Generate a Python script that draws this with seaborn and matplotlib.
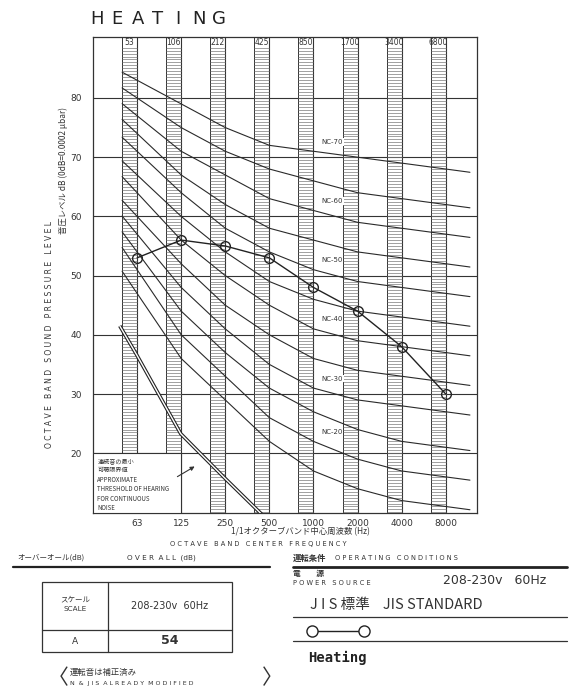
import numpy as np
import pandas as pd
import matplotlib
matplotlib.use("Agg")
import matplotlib.pyplot as plt
from matplotlib.lines import Line2D
from matplotlib.patches import Rectangle
import seaborn as sns

# octave bands
bands = ["63", "125", "250", "500", "1000", "2000", "4000", "8000"]
band_top = ["53", "106", "212", "425", "850", "1700", "3400", "6800"]

# measured octave band level, heating (dB)
heating_db = [53, 56, 55, 53, 48, 44, 38, 30]

# NC curves (dB at 63 ... 8000 Hz)
nc_names = ["NC-15", "NC-20", "NC-25", "NC-30", "NC-35", "NC-40",
            "NC-45", "NC-50", "NC-55", "NC-60", "NC-65", "NC-70"]
nc15 = [47, 36, 29, 22, 17, 14, 12, 11]
nc20 = [51, 40, 33, 26, 22, 19, 17, 16]
nc25 = [54, 44, 37, 31, 27, 24, 22, 21]
nc30 = [57, 48, 41, 35, 31, 29, 28, 27]
nc35 = [60, 52, 45, 40, 36, 34, 33, 32]
nc40 = [64, 56, 50, 45, 41, 39, 38, 37]
nc45 = [67, 60, 54, 49, 46, 44, 43, 42]
nc50 = [71, 64, 58, 54, 51, 49, 48, 47]
nc55 = [74, 67, 62, 58, 56, 54, 53, 52]
nc60 = [77, 71, 67, 63, 61, 59, 58, 57]
nc65 = [80, 75, 71, 68, 66, 64, 63, 62]
nc70 = [83, 79, 75, 72, 71, 70, 69, 68]
nc_values = [nc15, nc20, nc25, nc30, nc35, nc40, nc45, nc50, nc55, nc60, nc65, nc70]
nc_labelled = ["NC-20", "NC-30", "NC-40", "NC-50", "NC-60", "NC-70"]

# approx. threshold of hearing (double line)
threshold_hz = [48, 63, 125, 250, 500]
threshold_db = [41.5, 36.5, 23.3, 15.8, 8.5]

sns.set_style("white")
plt.rcParams['font.family'] = ['DejaVu Sans', 'Noto Sans CJK JP']
jp = ['Noto Sans CJK JP', 'DejaVu Sans']

W, H = 574, 693
fig = plt.figure(figsize=(W / 100, H / 100), dpi=100)


def px(x, y):
    return x / W, 1 - y / H


ax = fig.add_axes([93 / W, 1 - 513 / H, 384 / W, 476 / H])
ax.set_xlim(-1.0, 7.71)
ax.set_ylim(9.9, 90.3)
lc = "#333333"

# horizontal grid
for v in range(20, 81, 10):
    ax.axhline(v, color=lc, lw=0.8, zorder=1)

# hatched band stripes
sw = 0.34
rungs = np.arange(10, 88.6, 0.5)
for i in range(len(bands)):
    ax.axvline(i, color=lc, lw=0.8, zorder=1)
    ax.axvline(i - sw, color=lc, lw=0.7, zorder=1)
    ax.hlines(rungs, i - sw, i, color="#7a7a7a", lw=0.5, zorder=1)
    ax.text(i - sw / 2, 89.3, band_top[i], ha="center", va="center", fontsize=5.5, color=lc)

# NC curves
rows = []
for name, vals in zip(nc_names, nc_values):
    pos = [-sw] + list(range(8)) + [7.55]
    db = [vals[0] - sw * (vals[1] - vals[0])] + vals + [vals[7] + 0.55 * (vals[7] - vals[6])]
    for p, d in zip(pos, db):
        rows.append({"curve": name, "pos": p, "db": d})
nc_df = pd.DataFrame(rows)
sns.lineplot(data=nc_df, x="pos", y="db", units="curve", estimator=None,
             color="#2a2a2a", lw=0.8, ax=ax, zorder=2)
for name, vals in zip(nc_names, nc_values):
    if name in nc_labelled:
        ax.text(4.42, vals[4] + 1.6, name, fontsize=5, ha="center", va="center",
                color=lc, zorder=4,
                bbox=dict(fc="white", ec="none", pad=0.6))

# threshold double line
tpos = np.log2(np.array(threshold_hz) / 63.0)
ax.plot(tpos, threshold_db, color="#222222", lw=2.6, zorder=3, solid_capstyle="butt")
ax.plot(tpos, threshold_db, color="white", lw=1.0, zorder=3, solid_capstyle="butt")

# measured heating curve
meas = pd.DataFrame({"pos": range(8), "db": heating_db})
sns.lineplot(data=meas, x="pos", y="db", marker="o", color="#222222", lw=1.0,
             markersize=7, markerfacecolor="none", markeredgecolor="#222222",
             markeredgewidth=1.0, ax=ax, zorder=5)

# note box lower left
ax.add_patch(Rectangle((-1.0, 9.9), 2.0, 10.1, fc="white", ec=lc, lw=0.8, zorder=4))
note = ["連続音の最小", "可聴限界値", "APPROXIMATE", "THRESHOLD OF HEARING",
        "FOR CONTINUOUS", "NOISE"]
for k, t in enumerate(note):
    ax.text(-0.9, 18.7 - k * 1.6, t, fontsize=4.4, ha="left", va="center", color=lc,
            zorder=5, family=jp)
ax.annotate("", xy=(1.36, 18.0), xytext=(0.86, 15.8),
            arrowprops=dict(arrowstyle="-|>", color=lc, lw=0.8, mutation_scale=6), zorder=5)

# axes styling
ax.set_xticks(range(8))
ax.set_xticklabels(bands, fontsize=6.5, color=lc)
ax.tick_params(axis="x", length=0, pad=4)
ax.set_yticks(range(20, 81, 10))
ax.set_yticklabels([str(v) for v in range(20, 81, 10)], fontsize=6.5, color=lc)
ax.tick_params(axis="y", direction="out", length=7, width=0.8, color=lc, pad=1)
ax.set_xlabel("")
ax.set_ylabel("")
for s in ax.spines.values():
    s.set_color(lc)
    s.set_linewidth(0.9)

# title, letter by letter spread like the drawing
for k, ch in enumerate("HEATING"):
    fig.text(*px(97 + k * 20.3, 19), ch, fontsize=13, ha="center", va="center", color="#222222")

fig.text(*px(50, 335), "O C T A V E   B A N D   S O U N D   P R E S S U R E   L E V E L",
         fontsize=5.5, rotation=90, ha="center", va="center", color=lc)
fig.text(*px(63, 170), "音圧レベル dB (0dB=0.0002 μbar)", fontsize=6, rotation=90,
         ha="center", va="center", color=lc, family=jp)
fig.text(*px(300, 532), "1/1オクターブバンド中心周波数 (Hz)", fontsize=6,
         ha="center", va="center", color=lc, family=jp)
fig.text(*px(258, 544), "O C T A V E   B A N D   C E N T E R   F R E Q U E N C Y",
         fontsize=4.8, ha="center", va="center", color=lc)

# overall table (left)
fig.text(*px(17, 558), "オーバーオール(dB)", fontsize=5.4, ha="left", va="center", color=lc, family=jp)
fig.text(*px(127, 558), "O V E R  A L L  (dB)", fontsize=5.2, ha="left", va="center", color=lc)
fig.add_artist(Line2D([13 / W, 270 / W], [1 - 567 / H] * 2, color="#222222", lw=1.6))
fig.add_artist(Rectangle(px(42, 652), 190 / W, 70 / H, fill=False, ec=lc, lw=0.9,
                         transform=fig.transFigure))
fig.add_artist(Line2D([108 / W] * 2, [1 - 582 / H, 1 - 652 / H], color=lc, lw=0.9))
fig.add_artist(Line2D([42 / W, 232 / W], [1 - 630 / H] * 2, color=lc, lw=0.9))
fig.text(*px(75, 599), "スケール", fontsize=5.4, ha="center", va="center", color=lc, family=jp)
fig.text(*px(75, 609), "SCALE", fontsize=5.2, ha="center", va="center", color=lc)
fig.text(*px(170, 606), "208-230v  60Hz", fontsize=7, ha="center", va="center", color=lc)
fig.text(*px(75, 641), "A", fontsize=6.5, ha="center", va="center", color=lc)
fig.text(*px(170, 641), "54", fontsize=9, fontweight="bold", ha="center", va="center", color=lc)
fig.text(*px(58, 678), "〈", fontsize=15, ha="center", va="center", color=lc, family=jp)
fig.text(*px(70, 672), "運転音は補正済み", fontsize=6, ha="left", va="center", color=lc, family=jp)
fig.text(*px(70, 684), "N  &  J I S  A L R E A D Y  M O D I F I E D", fontsize=4.5,
         ha="left", va="center", color=lc)
fig.text(*px(272, 678), "〉", fontsize=15, ha="center", va="center", color=lc, family=jp)

# operating conditions (right)
fig.text(*px(293, 558), "運転条件", fontsize=6, fontweight="bold", ha="left", va="center",
         color=lc, family=jp)
fig.text(*px(335, 558), "O P E R A T I N G   C O N D I T I O N S", fontsize=4.8,
         ha="left", va="center", color=lc)
fig.add_artist(Line2D([293 / W, 567 / W], [1 - 567 / H] * 2, color="#222222", lw=2.0))
fig.text(*px(293, 573), "電　　源", fontsize=5.6, fontweight="bold", ha="left", va="center",
         color=lc, family=jp)
fig.text(*px(293, 583), "P O W E R   S O U R C E", fontsize=4.8, ha="left", va="center", color=lc)
fig.text(*px(443, 581), "208-230v   60Hz", fontsize=9, ha="left", va="center", color=lc)
fig.text(*px(310, 605), "J I S 標準    JIS STANDARD", fontsize=10.5, ha="left", va="center",
         color=lc, family=jp)
fig.add_artist(Line2D([293 / W, 567 / W], [1 - 617 / H] * 2, color=lc, lw=0.9))
fig.add_artist(Line2D([312 / W, 364 / W], [1 - 631 / H] * 2, color="#222222", lw=1.0,
                      marker="o", markersize=8, markerfacecolor="white",
                      markeredgecolor="#222222", markeredgewidth=1.0))
fig.add_artist(Line2D([293 / W, 567 / W], [1 - 641 / H] * 2, color=lc, lw=0.9))
fig.text(*px(308, 658), "Heating", fontsize=10, fontweight="bold", family="DejaVu Sans Mono",
         ha="left", va="center", color="#222222")

fig.savefig("out.png", dpi=100, facecolor="white")
